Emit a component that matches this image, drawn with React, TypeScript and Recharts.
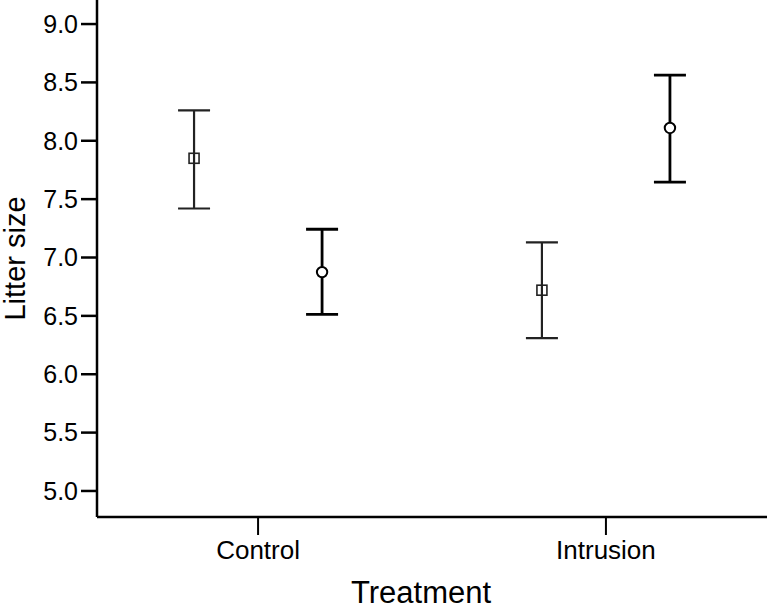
import React from 'react';
import { ComposedChart, Scatter, XAxis, YAxis, ErrorBar } from 'recharts';

const categories = ['Control', 'Intrusion'];
const squareMean = [7.85, 6.72];
const squareLow = [7.42, 6.31];
const squareHigh = [8.26, 7.13];
const circleMean = [6.875, 8.11];
const circleLow = [6.513, 7.645];
const circleHigh = [7.242, 8.563];
const yTicks = [5.0, 5.5, 6.0, 6.5, 7.0, 7.5, 8.0, 8.5, 9.0];

const DODGE = 0.184;
const build = (mean: number[], low: number[], high: number[], shift: number) =>
  categories.map((c, i) => ({
    x: i + 1 + shift,
    y: mean[i],
    err: [mean[i] - low[i], high[i] - mean[i]],
  }));

const squareData = build(squareMean, squareLow, squareHigh, -DODGE);
const circleData = build(circleMean, circleLow, circleHigh, DODGE);

const FONT = '"Liberation Sans", Arial, sans-serif';

const SquareShape = (p: any) => (
  <rect x={p.cx - 5} y={p.cy - 5} width={10} height={10} fill="none" stroke="#222" strokeWidth={1.6} />
);
const CircleShape = (p: any) => (
  <circle cx={p.cx} cy={p.cy} r={5.2} fill="#fff" stroke="#000" strokeWidth={2} />
);

const YLabel = (props: any) => {
  const vb = props.viewBox;
  const x = vb.x + 25;
  const y = vb.y + vb.height / 2;
  return (
    <text x={x} y={y} transform={`rotate(-90, ${x}, ${y})`} textAnchor="middle" fontSize={29} fontFamily={FONT} fill="#000">
      Litter size
    </text>
  );
};
const XLabel = (props: any) => {
  const vb = props.viewBox;
  const x = vb.x + vb.width / 2 - 11;
  const y = vb.y + 86;
  return (
    <text x={x} y={y} textAnchor="middle" fontSize={31} fontFamily={FONT} fill="#000">
      Treatment
    </text>
  );
};

export default function App() {
  return (
    <div style={{ position: 'absolute', left: 0, top: 0, background: '#fff' }}>
      <ComposedChart width={767} height={607} margin={{ top: 0, right: 0, bottom: 0, left: 0 }}>
        <XAxis
          type="number"
          dataKey="x"
          domain={[0.537, 2.463]}
          ticks={[1, 2]}
          tickFormatter={(v: number) => categories[Math.round(v) - 1]}
          allowDataOverflow
          height={90}
          axisLine={{ stroke: '#000', strokeWidth: 2.5 }}
          tickLine={{ stroke: '#000', strokeWidth: 2 }}
          tickSize={18}
          tickMargin={6}
          tick={{ fill: '#000', fontSize: 26, fontFamily: FONT }}
          label={<XLabel />}
        />
        <YAxis
          type="number"
          dataKey="y"
          domain={[4.777, 9.206]}
          ticks={yTicks}
          tickFormatter={(v: number) => v.toFixed(1)}
          allowDataOverflow
          width={97}
          axisLine={{ stroke: '#000', strokeWidth: 2.5 }}
          tickLine={{ stroke: '#000', strokeWidth: 2.5 }}
          tickSize={16}
          tickMargin={3}
          tick={{ fill: '#000', fontSize: 25, fontFamily: FONT }}
          label={<YLabel />}
        />
        <Scatter data={squareData} dataKey="y" shape={<SquareShape />} isAnimationActive={false}>
          <ErrorBar dataKey="err" direction="y" width={16} stroke="#222" strokeWidth={2.2} isAnimationActive={false} />
        </Scatter>
        <Scatter data={circleData} dataKey="y" shape={<CircleShape />} isAnimationActive={false}>
          <ErrorBar dataKey="err" direction="y" width={16} stroke="#000" strokeWidth={2.8} isAnimationActive={false} />
        </Scatter>
      </ComposedChart>
    </div>
  );
}
